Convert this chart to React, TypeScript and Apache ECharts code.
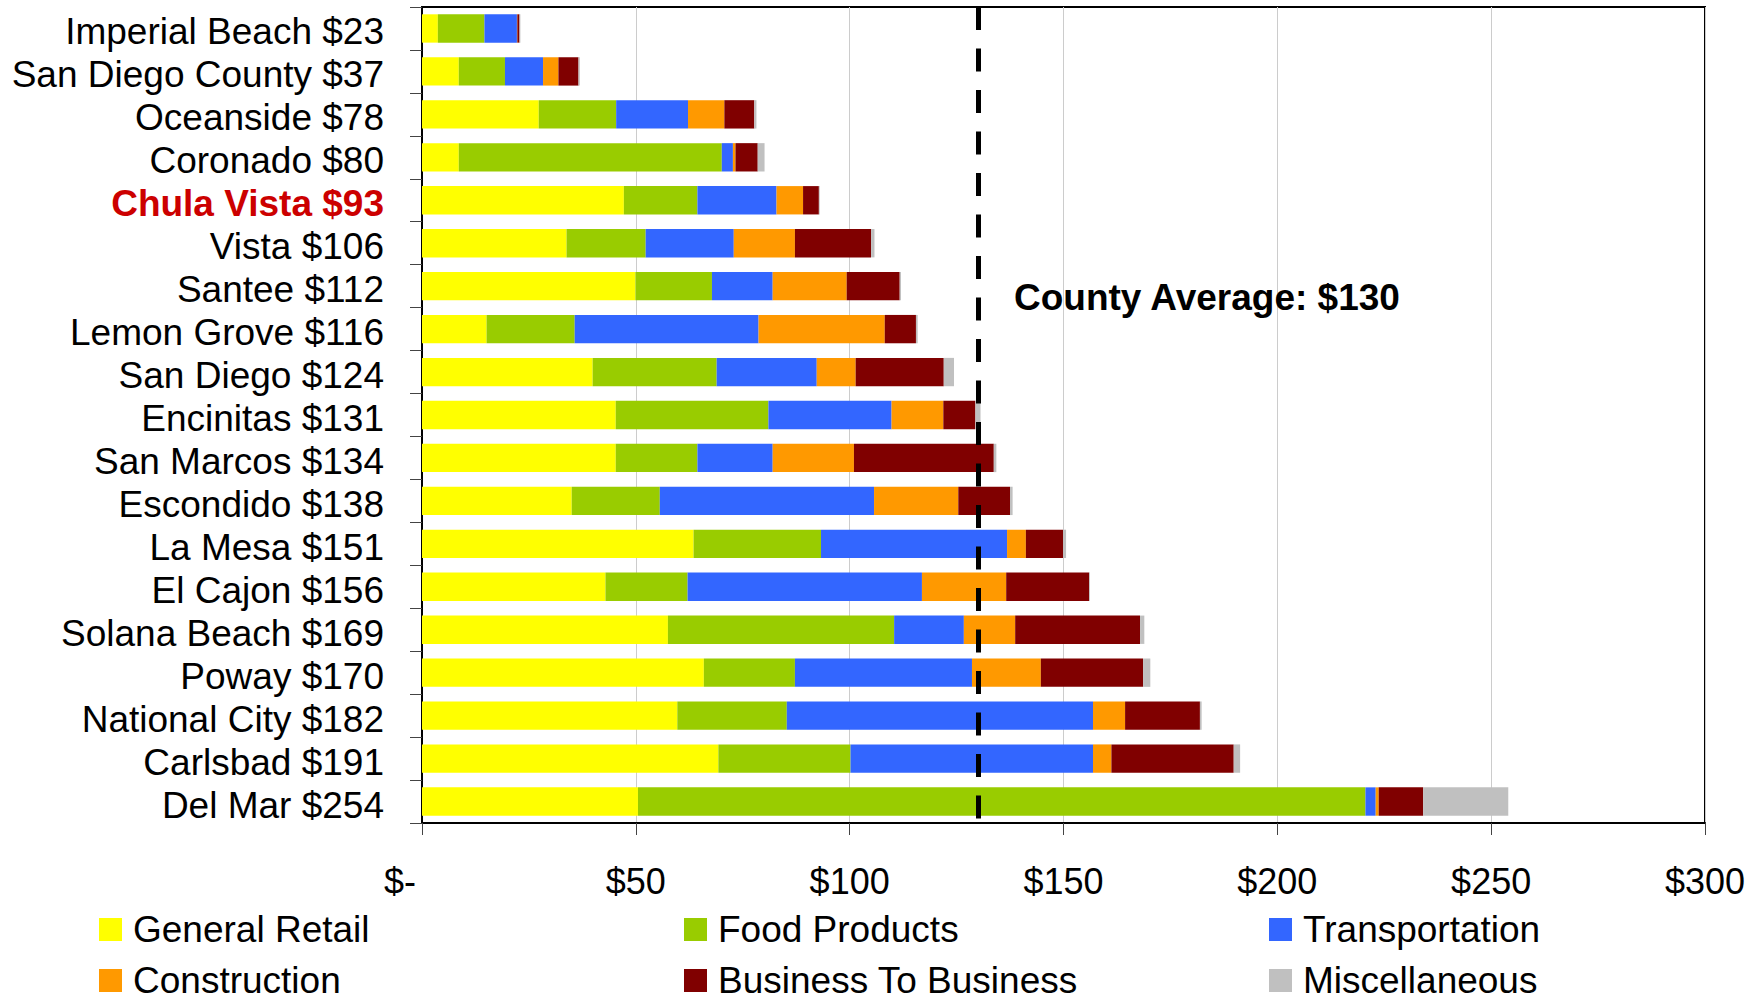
import React, { useEffect, useRef } from "react";
import * as echarts from "echarts";

// Sales tax per capita by jurisdiction, split by economic segment ($)
const cities = [
  "Imperial Beach",
  "San Diego County",
  "Oceanside",
  "Coronado",
  "Chula Vista",
  "Vista",
  "Santee",
  "Lemon Grove",
  "San Diego",
  "Encinitas",
  "San Marcos",
  "Escondido",
  "La Mesa",
  "El Cajon",
  "Solana Beach",
  "Poway",
  "National City",
  "Carlsbad",
  "Del Mar",
];
const cityTotals = [23, 37, 78, 80, 93, 106, 112, 116, 124, 131, 134, 138, 151, 156, 169, 170, 182, 191, 254];

const generalRetail = [3.7, 8.6, 27.3, 8.6, 47.2, 33.8, 49.9, 15.1, 39.9, 45.3, 45.3, 35.0, 63.5, 42.9, 57.5, 65.9, 59.7, 69.3, 50.5];
const foodProducts = [10.9, 10.8, 18.1, 61.5, 17.2, 18.5, 17.9, 20.6, 29.0, 35.7, 19.1, 20.6, 29.8, 19.2, 52.9, 21.3, 25.6, 30.9, 170.1];
const transportation = [7.6, 8.9, 16.8, 2.6, 18.5, 20.6, 14.2, 43.0, 23.4, 28.8, 17.6, 50.1, 43.5, 54.8, 16.3, 41.4, 71.6, 56.7, 2.4];
const construction = [0.1, 3.6, 8.5, 0.6, 6.2, 14.3, 17.3, 29.5, 9.1, 12.1, 19.0, 19.7, 4.4, 19.7, 12.0, 16.1, 7.5, 4.3, 0.7];
const businessToBusiness = [0.5, 4.7, 7.0, 5.2, 3.7, 17.8, 12.4, 7.3, 20.6, 7.5, 32.7, 12.1, 8.7, 19.4, 29.2, 23.9, 17.5, 28.6, 10.4];
const miscellaneous = [0.2, 0.3, 0.5, 1.6, 0.2, 0.8, 0.3, 0.4, 2.4, 1.2, 0.6, 0.6, 0.7, 0.2, 1.0, 1.7, 0.4, 1.5, 19.9];

const countyAverage = 130;
const highlightedCity = "Chula Vista";

const xTicks = { min: 0, max: 300, interval: 50 };

const FONT = "'Liberation Sans', Arial, Helvetica, sans-serif";

export default function App() {
  const ref = useRef<HTMLDivElement>(null);

  useEffect(() => {
    if (!ref.current) return;
    const chart = echarts.init(ref.current, null, { renderer: "svg" });

    const categoryLabels = cities.map((c, i) => `${c} $${cityTotals[i]}`);

    const segments = [
      { name: "General Retail", data: generalRetail, color: "#ffff00" },
      { name: "Food Products", data: foodProducts, color: "#99cc00" },
      { name: "Transportation", data: transportation, color: "#3366ff" },
      { name: "Construction", data: construction, color: "#ff9900" },
      { name: "Business To Business", data: businessToBusiness, color: "#800000" },
      { name: "Miscellaneous", data: miscellaneous, color: "#c0c0c0" },
    ];

    const series: any[] = segments.map((s, idx) => ({
      name: s.name,
      type: "bar",
      stack: "total",
      barCategoryGap: "34%",
      data: s.data,
      itemStyle: { color: s.color },
      emphasis: { disabled: true },
      ...(idx === 0
        ? {
            markLine: {
              silent: true,
              symbol: ["none", "none"],
              label: { show: false },
              lineStyle: { color: "#000", width: 5, type: [23, 18.5], opacity: 1 },
              emphasis: { disabled: true },
              data: [{ xAxis: countyAverage }],
              z: 10,
            },
          }
        : {}),
    }));

    // Legend laid out as three columns of two rows each
    const legendCommon = {
      orient: "vertical",
      top: 911,
      height: 120,
      padding: 0,
      itemWidth: 23,
      itemHeight: 23,
      itemGap: 14,
      icon: "rect",
      textStyle: {
        fontFamily: FONT,
        fontSize: 37,
        lineHeight: 37,
        color: "#000",
        padding: [0, 0, 0, 6],
      },
    };

    chart.setOption({
      animation: false,
      textStyle: { fontFamily: FONT },
      grid: {
        left: 422,
        right: 57,
        top: 7,
        bottom: 177,
        show: true,
        borderColor: "#000",
        borderWidth: 2,
        backgroundColor: "transparent",
      },
      legend: [
        { ...legendCommon, left: 99, data: ["General Retail", "Construction"] },
        { ...legendCommon, left: 684, data: ["Food Products", "Business To Business"] },
        { ...legendCommon, left: 1269, data: ["Transportation", "Miscellaneous"] },
      ],
      xAxis: {
        type: "value",
        min: xTicks.min,
        max: xTicks.max,
        interval: xTicks.interval,
        axisLine: { show: true, lineStyle: { color: "#000", width: 2 } },
        axisTick: { show: true, length: 12, lineStyle: { color: "#444", width: 1 } },
        splitLine: { show: true, lineStyle: { color: "#cccccc", width: 1 } },
        axisLabel: {
          margin: 40,
          fontFamily: FONT,
          fontSize: 36,
          color: "#000",
          formatter: (v: number) => (v === 0 ? "{z|$-}" : `$${v}`),
          rich: {
            z: { fontFamily: FONT, fontSize: 36, color: "#000", padding: [0, 44, 0, 0] },
          },
        },
      },
      yAxis: {
        type: "category",
        inverse: true,
        data: categoryLabels,
        axisLine: { show: true, lineStyle: { color: "#000", width: 2 } },
        axisTick: { show: true, length: 12, alignWithLabel: false, lineStyle: { color: "#444", width: 1 } },
        splitLine: { show: false },
        axisLabel: {
          margin: 38,
          padding: [7, 0, 0, 0],
          fontFamily: FONT,
          fontSize: 37,
          color: "#000",
          interval: 0,
          formatter: (v: string) => (v.startsWith(highlightedCity) ? `{hl|${v}}` : v),
          rich: {
            hl: { fontFamily: FONT, fontSize: 37, fontWeight: "bold", color: "#cc0000" },
          },
        },
      },
      graphic: [
        {
          type: "text",
          x: 1014,
          y: 297,
          silent: true,
          z: 100,
          style: {
            text: `County Average: $${countyAverage}`,
            fontFamily: FONT,
            fontSize: 37,
            fontWeight: "bold",
            fill: "#000",
            align: "left",
            verticalAlign: "middle",
          },
        },
      ],
      series,
    });

    return () => chart.dispose();
  }, []);

  return (
    <div
      ref={ref}
      style={{ position: "fixed", left: 0, top: 0, width: 1762, height: 1000, background: "#fff" }}
    />
  );
}
